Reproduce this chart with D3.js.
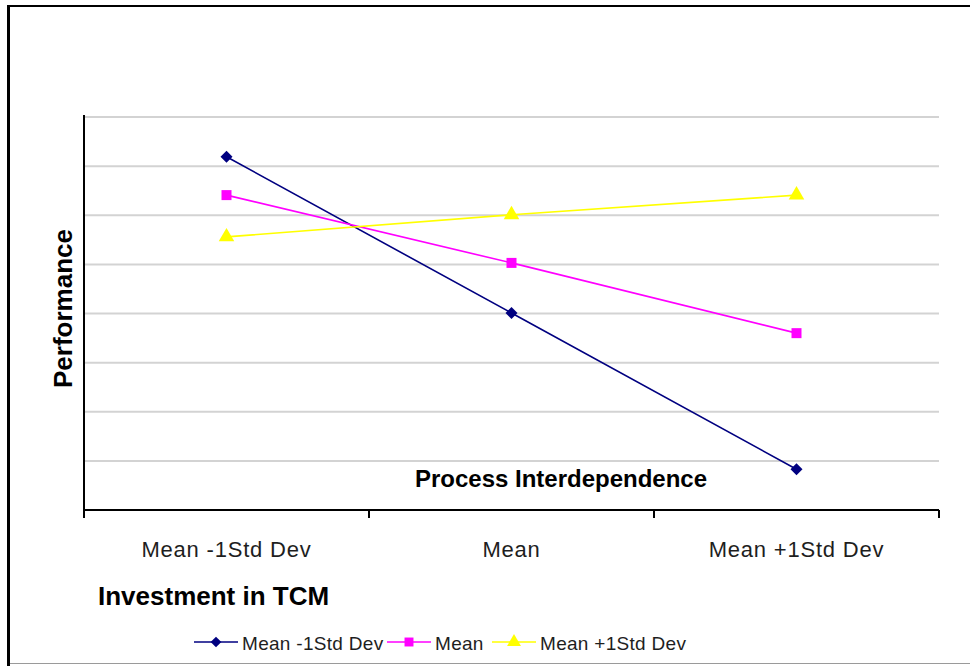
<!DOCTYPE html>
<html>
<head>
<meta charset="utf-8">
<script src="https://cdn.jsdelivr.net/npm/d3@7"></script>
<style>
  html, body { margin: 0; padding: 0; background: #fff; }
  svg { display: block; font-family: "Liberation Sans", Arial, sans-serif; }
</style>
</head>
<body>
<div id="chart"></div>
<script>
// categories on the x axis
const categories = ['Mean -1Std Dev', 'Mean', 'Mean +1Std Dev'];
// series names (legend)
const seriesNames = ['Mean -1Std Dev', 'Mean', 'Mean +1Std Dev'];
// values
const lowValues = [7.19, 4.01, 0.83];
const meanValues = [6.41, 5.03, 3.60];
const highValues = [5.56, 6.01, 6.41];
const gridTicks = [1, 2, 3, 4, 5, 6, 7, 8];

const width = 970, height = 666;
const margin = { top: 117, right: 31, bottom: 156, left: 84 };

const svg = d3.select('#chart').append('svg')
  .attr('width', width)
  .attr('height', height);

// frame
svg.append('rect').attr('x', 0).attr('y', 0).attr('width', width).attr('height', height).attr('fill', '#fff');
svg.append('line').attr('x1', 8.5).attr('x2', 8.5).attr('y1', 5).attr('y2', height).attr('stroke', '#000').attr('stroke-width', 3);
svg.append('line').attr('x1', 7).attr('x2', width).attr('y1', 6).attr('y2', 6).attr('stroke', '#000').attr('stroke-width', 2);
svg.append('line').attr('x1', 10).attr('x2', width).attr('y1', 663.5).attr('y2', 663.5).attr('stroke', '#9a9a9a').attr('stroke-width', 1);

const xScale = d3.scaleBand()
  .domain(categories)
  .range([margin.left, width - margin.right])
  .padding(0);

const yScale = d3.scaleLinear()
  .domain([0, 8])
  .range([height - margin.bottom, margin.top]);

// gridlines
svg.append('g')
  .selectAll('line')
  .data(gridTicks)
  .join('line')
  .attr('x1', margin.left)
  .attr('x2', width - margin.right)
  .attr('y1', d => yScale(d))
  .attr('y2', d => yScale(d))
  .attr('stroke', '#d3d3d3')
  .attr('stroke-width', 2);

// y axis line
svg.append('line')
  .attr('x1', margin.left).attr('x2', margin.left)
  .attr('y1', yScale(8) - 2).attr('y2', yScale(0) + 8)
  .attr('stroke', '#000').attr('stroke-width', 2);

// x axis with ticks on the category boundaries
const xAxisGroup = svg.append('g')
  .attr('transform', `translate(0,${yScale(0)})`);
xAxisGroup.append('line')
  .attr('x1', margin.left).attr('x2', width - margin.right)
  .attr('stroke', '#000').attr('stroke-width', 2);
const bounds = categories.map(c => xScale(c)).concat([xScale(categories[2]) + xScale.bandwidth()]);
xAxisGroup.selectAll('.tk')
  .data(bounds)
  .join('line')
  .attr('class', 'tk')
  .attr('x1', d => d).attr('x2', d => d)
  .attr('y1', 0).attr('y2', 8)
  .attr('stroke', '#000').attr('stroke-width', 2);
xAxisGroup.selectAll('text')
  .data(categories)
  .join('text')
  .attr('x', d => xScale(d) + xScale.bandwidth() / 2)
  .attr('y', 47)
  .attr('text-anchor', 'middle')
  .attr('font-size', '22px')
  .attr('letter-spacing', '0.8px')
  .attr('fill', '#1e1e1e')
  .text(d => d);

// series (diamond = square turned 45 degrees)
const series = [
  { name: seriesNames[0], values: lowValues, color: '#000080', symbol: d3.symbolSquare, size: 72, rotate: 45 },
  { name: seriesNames[1], values: meanValues, color: '#ff00ff', symbol: d3.symbolSquare, size: 100, rotate: 0 },
  { name: seriesNames[2], values: highValues, color: '#ffff00', symbol: d3.symbolTriangle, size: 105, rotate: 0 }
];
const cx = c => xScale(c) + xScale.bandwidth() / 2;

const line = d3.line()
  .x((d, i) => cx(categories[i]))
  .y(d => yScale(d));

series.forEach(s => {
  svg.append('path')
    .attr('d', line(s.values))
    .attr('fill', 'none')
    .attr('stroke', s.color)
    .attr('stroke-width', 1.6);
});
series.forEach(s => {
  svg.append('g')
    .selectAll('path')
    .data(s.values)
    .join('path')
    .attr('transform', (d, i) => `translate(${cx(categories[i])},${yScale(d)}) rotate(${s.rotate})`)
    .attr('d', d3.symbol().type(s.symbol).size(s.size))
    .attr('fill', s.color);
});

// axis titles
svg.append('text')
  .attr('transform', `translate(72,${(227 + 390) / 2}) rotate(-90)`)
  .attr('text-anchor', 'middle')
  .attr('font-size', '26px')
  .attr('font-weight', 'bold')
  .attr('fill', '#000')
  .text('Performance');

svg.append('text')
  .attr('x', 561)
  .attr('y', 487)
  .attr('text-anchor', 'middle')
  .attr('font-size', '24px')
  .attr('font-weight', 'bold')
  .attr('fill', '#000')
  .text('Process Interdependence');

svg.append('text')
  .attr('x', 98)
  .attr('y', 605)
  .attr('font-size', '26px')
  .attr('font-weight', 'bold')
  .attr('fill', '#000')
  .text('Investment in TCM');

// legend
const legendX = [194, 387, 492];
const legend = svg.append('g');
series.forEach((s, i) => {
  const g = legend.append('g').attr('transform', `translate(${legendX[i]},642)`);
  g.append('line').attr('x1', 0).attr('x2', 44).attr('stroke', s.color).attr('stroke-width', 1.6);
  g.append('path')
    .attr('transform', `translate(22,0) rotate(${s.rotate})`)
    .attr('d', d3.symbol().type(s.symbol).size(s.size * 0.8))
    .attr('fill', s.color);
  g.append('text')
    .attr('x', 48)
    .attr('y', 8)
    .attr('font-size', '19px')
    .attr('letter-spacing', '0.3px')
    .attr('fill', '#1e1e1e')
    .text(s.name);
});
</script>
</body>
</html>
